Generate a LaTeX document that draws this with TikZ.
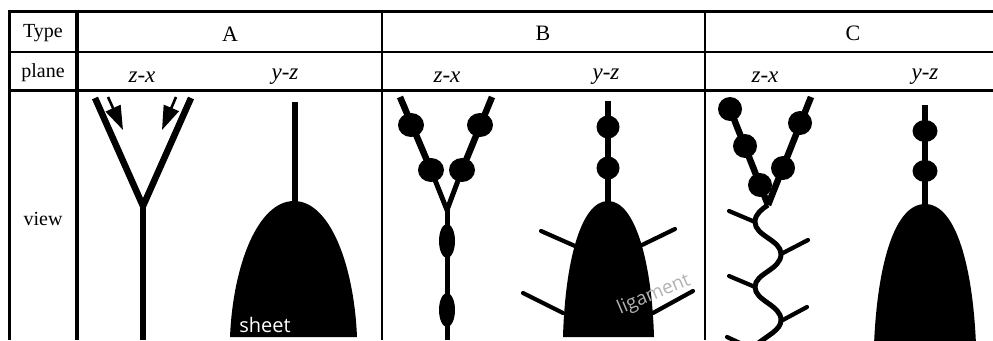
\documentclass[tikz,border=0pt]{standalone}
\usepackage{fontspec}
\setmainfont{Liberation Serif}
\newfontfamily\labelfont{Open Sans}
\usetikzlibrary{arrows.meta}
\begin{document}
\begin{tikzpicture}[x=1pt,y=-1pt]
    \tikzset{
        cell/.style={font=\fontsize{20}{24}\selectfont, inner sep=0pt},
        head/.style={font=\fontsize{22}{26}\selectfont, inner sep=0pt},
        plane/.style={font=\fontsize{23}{27}\selectfont\itshape, inner sep=0pt},
        rule/.style={line width=2.2pt},
        heavy/.style={line width=3.6pt},
        fibre/.style={line width=6.5pt},
        arm/.style={line width=5pt},
        twig/.style={line width=4.2pt, line cap=round},
        stem/.style={line width=5.5pt},
        flow/.style={line width=2.6pt, -{Triangle[length=24pt,width=16pt]}},
        lab/.style={font=\fontsize{20}{24}\selectfont\labelfont, inner sep=0pt}
    }
    \useasboundingbox (0,0) rectangle (993,340);
    \clip (0,0) rectangle (993,340);

    % table rules
    \draw[heavy] (993,11.5) -- (9.5,11.5) -- (9.5,340);
    \draw[heavy] (77,11) -- (77,340);
    \draw[rule] (9,52) -- (993,52);
    \draw[rule] (9,90.5) -- (993,90.5);
    \foreach \x in {382,705}{
        \draw[rule] (\x,11) -- (\x,340);
    }

    % table text
    \node[cell] (type) at (43,33) {Type};
    \node[cell] (plane) at (43,73) {plane};
    \node[cell] (view) at (43,219) {view};
    \node[head] (typeA) at (230,34) {A};
    \node[head] (typeB) at (543,33) {B};
    \node[head] (typeC) at (853,33) {C};
    \foreach \x/\n in {142/a,447/b,765/c}{
        \node[plane] (zx\n) at (\x,77) {z-x};
    }
    \foreach \x/\n in {285/a,606/b,925/c}{
        \node[plane] (yz\n) at (\x,77) {y-z};
    }

    % sheets
    \fill (230,337) .. controls (233,265) and (258,201) .. (294,201)
        .. controls (330,201) and (354,265) .. (357,337) -- cycle;
    \fill (563,337) .. controls (565,265) and (580,201) .. (608,201)
        .. controls (636,201) and (652,265) .. (654,337) -- cycle;
    \fill (874,345) .. controls (877,270) and (893,204) .. (925,204)
        .. controls (957,204) and (973,270) .. (976,345) -- cycle;

    % stems above the sheets
    \draw[stem] (295,102) -- (295,205);
    \draw[stem] (608,101) -- (608,205);
    \draw[stem] (925,105) -- (925,208);

    % type A
    \coordinate (ya) at (143,206);
    \draw[fibre, miter limit=4] (95,98) -- (ya) -- (191,98);
    \draw[fibre] (ya) -- (143,340);
    \draw[flow] (108,97) -- (123,130);
    \draw[flow] (176,97) -- (162,130);

    % type B
    \coordinate (yb) at (447,210);
    \draw[arm] (431,170) -- (yb) -- (462,170);
    \draw[fibre] (400,97) -- (431,170);
    \draw[fibre] (492,97) -- (462,170);
    \draw[arm] (yb) -- (447,340);
    \foreach \x/\y in {411/125,431/170,480/125,462/170}{
        \fill (\x,\y) ellipse (13 and 12);
    }
    \foreach \y in {241,310}{
        \fill (447,\y) ellipse (8 and 17);
    }
    \foreach \y in {127,168}{
        \fill (608,\y) ellipse (11.5 and 11.5);
    }
    \foreach \a/\b/\c/\d in {575/246/541/231,642/245/675/229,563/313/523/293,653/313/693/291}{
        \draw[twig] (\a,\b) -- (\c,\d);
    }

    % type C
    \coordinate (yc) at (768,205);
    \draw[fibre] (730,109) -- (yc);
    \draw[fibre] (811,97) -- (yc);
    \foreach \x/\y in {730/109,745/146,760/185,783/168,800/123}{
        \fill (\x,\y) circle (12);
    }
    \draw[arm] (yc) .. controls (762,209) and (755,214) .. (755,222)
        .. controls (755,236) and (781,240) .. (781,254)
        .. controls (781,270) and (755,273) .. (755,287)
        .. controls (755,301) and (781,305) .. (781,320)
        .. controls (781,330) and (768,335) .. (756,345);
    \foreach \a/\b/\c/\d in {755/222/729/211,781/254/808/240,755/287/729/276,781/321/807/307,740/343/727/337}{
        \draw[twig] (\a,\b) -- (\c,\d);
    }
    \foreach \y in {131,171}{
        \fill (925,\y) ellipse (12.5 and 11);
    }

    % labels on the sheets
    \node[lab, text=white] (sheet) at (265,325) {sheet};
    \node[lab, text=gray!60, rotate=23, font=\fontsize{19}{23}\selectfont\labelfont] (ligament) at (654,295) {ligament};
\end{tikzpicture}
\end{document}
